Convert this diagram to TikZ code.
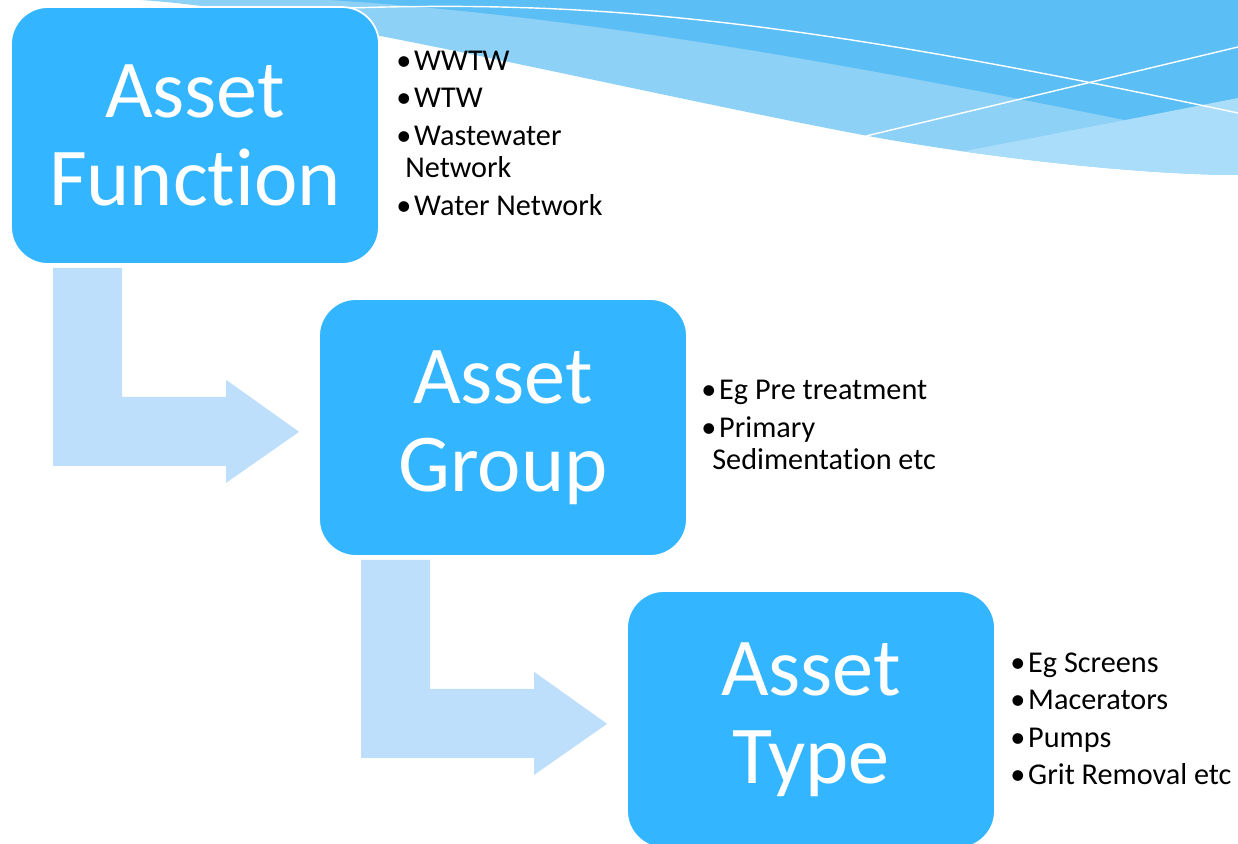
\documentclass[tikz,border=0pt]{standalone}
\usepackage{fontspec}
\setmainfont{Carlito}[Ligatures=NoCommon]
\usetikzlibrary{calc}
\definecolor{boxblue}{RGB}{51,182,255}
\definecolor{arrowblue}{RGB}{190,223,251}
\definecolor{wavedark}{RGB}{91,190,244}
\definecolor{wavemid}{RGB}{141,209,247}
\definecolor{wavelight}{RGB}{170,221,250}
\newcommand{\bul}{•\hspace{1.6pt}}

\tikzset{
  assetbox/.style={draw=white, line width=1pt, fill=boxblue, rounded corners=0.74cm,
    minimum width=7.36cm, minimum height=5.14cm, text=white, align=center,
    font=\fontsize{46.8}{50}\selectfont},
  item/.style={anchor=base west, inner sep=0pt, font=\fontsize{17.2}{18}\selectfont},
  bentarrow/.style={fill=arrowblue}
}

\begin{document}
\begin{tikzpicture}[x=0.02cm, y=-0.02cm]
\useasboundingbox (0,0) rectangle (1238,844);
\clip (0,0) rectangle (1238,844);

% wave at the top
\begin{scope}
\clip (140,0) .. controls (300,10) and (600,85) .. (868,136)
  .. controls (1000,160) and (1150,175) .. (1238,175) -- (1238,0) -- cycle;
\fill[wavemid] (0,0) rectangle (1238,200);
\fill[wavedark] (330,0) .. controls (650,20) and (1000,95) .. (1238,143) -- (1238,0) -- cycle;
\fill[wavelight] (900,200) -- (960,152) .. controls (1100,125) .. (1238,98) -- (1238,200) -- cycle;
\draw[white, line width=0.8pt] (350,8) .. controls (600,0) and (800,20) .. (1238,113);
\draw[white, line width=0.8pt] (820,147) -- (1238,47);
\end{scope}

\node[assetbox] (fun) at (195,135.5) {Asset\\Function};
\node[assetbox] (grp) at (503,427.5) {Asset\\Group};
\node[assetbox] (typ) at (811,719.5) {Asset\\Type};

\foreach \a in {fun,grp}
  \fill[bentarrow] ($(\a.south west)+(43,3)$) -- ++(69,0) -- ++(0,129) -- ++(104,0)
    -- ++(0,-17) -- ++(73,52) -- ++(-73,51) -- ++(0,-17) -- ++(-173,0) -- cycle;

\node[item] (f1) at (396,71) {\bul WWTW};
\node[item] (f2) at (396,108) {\bul WTW};
\node[item] (f3) at (396,146) {\bul Wastewater};
\node[item] (f3b) at (405,178) {Network};
\node[item] (f4) at (396,216) {\bul Water Network};

\node[item] (g1) at (701,400) {\bul Eg Pre treatment};
\node[item] (g2) at (701,438) {\bul Primary};
\node[item] (g2b) at (712,470) {Sedimentation etc};

\node[item] (t1) at (1010,672) {\bul Eg Screens};
\node[item] (t2) at (1010,709) {\bul Macerators};
\node[item] (t3) at (1010,747) {\bul Pumps};
\node[item] (t4) at (1010,784) {\bul Grit Removal etc};
\end{tikzpicture}
\end{document}
